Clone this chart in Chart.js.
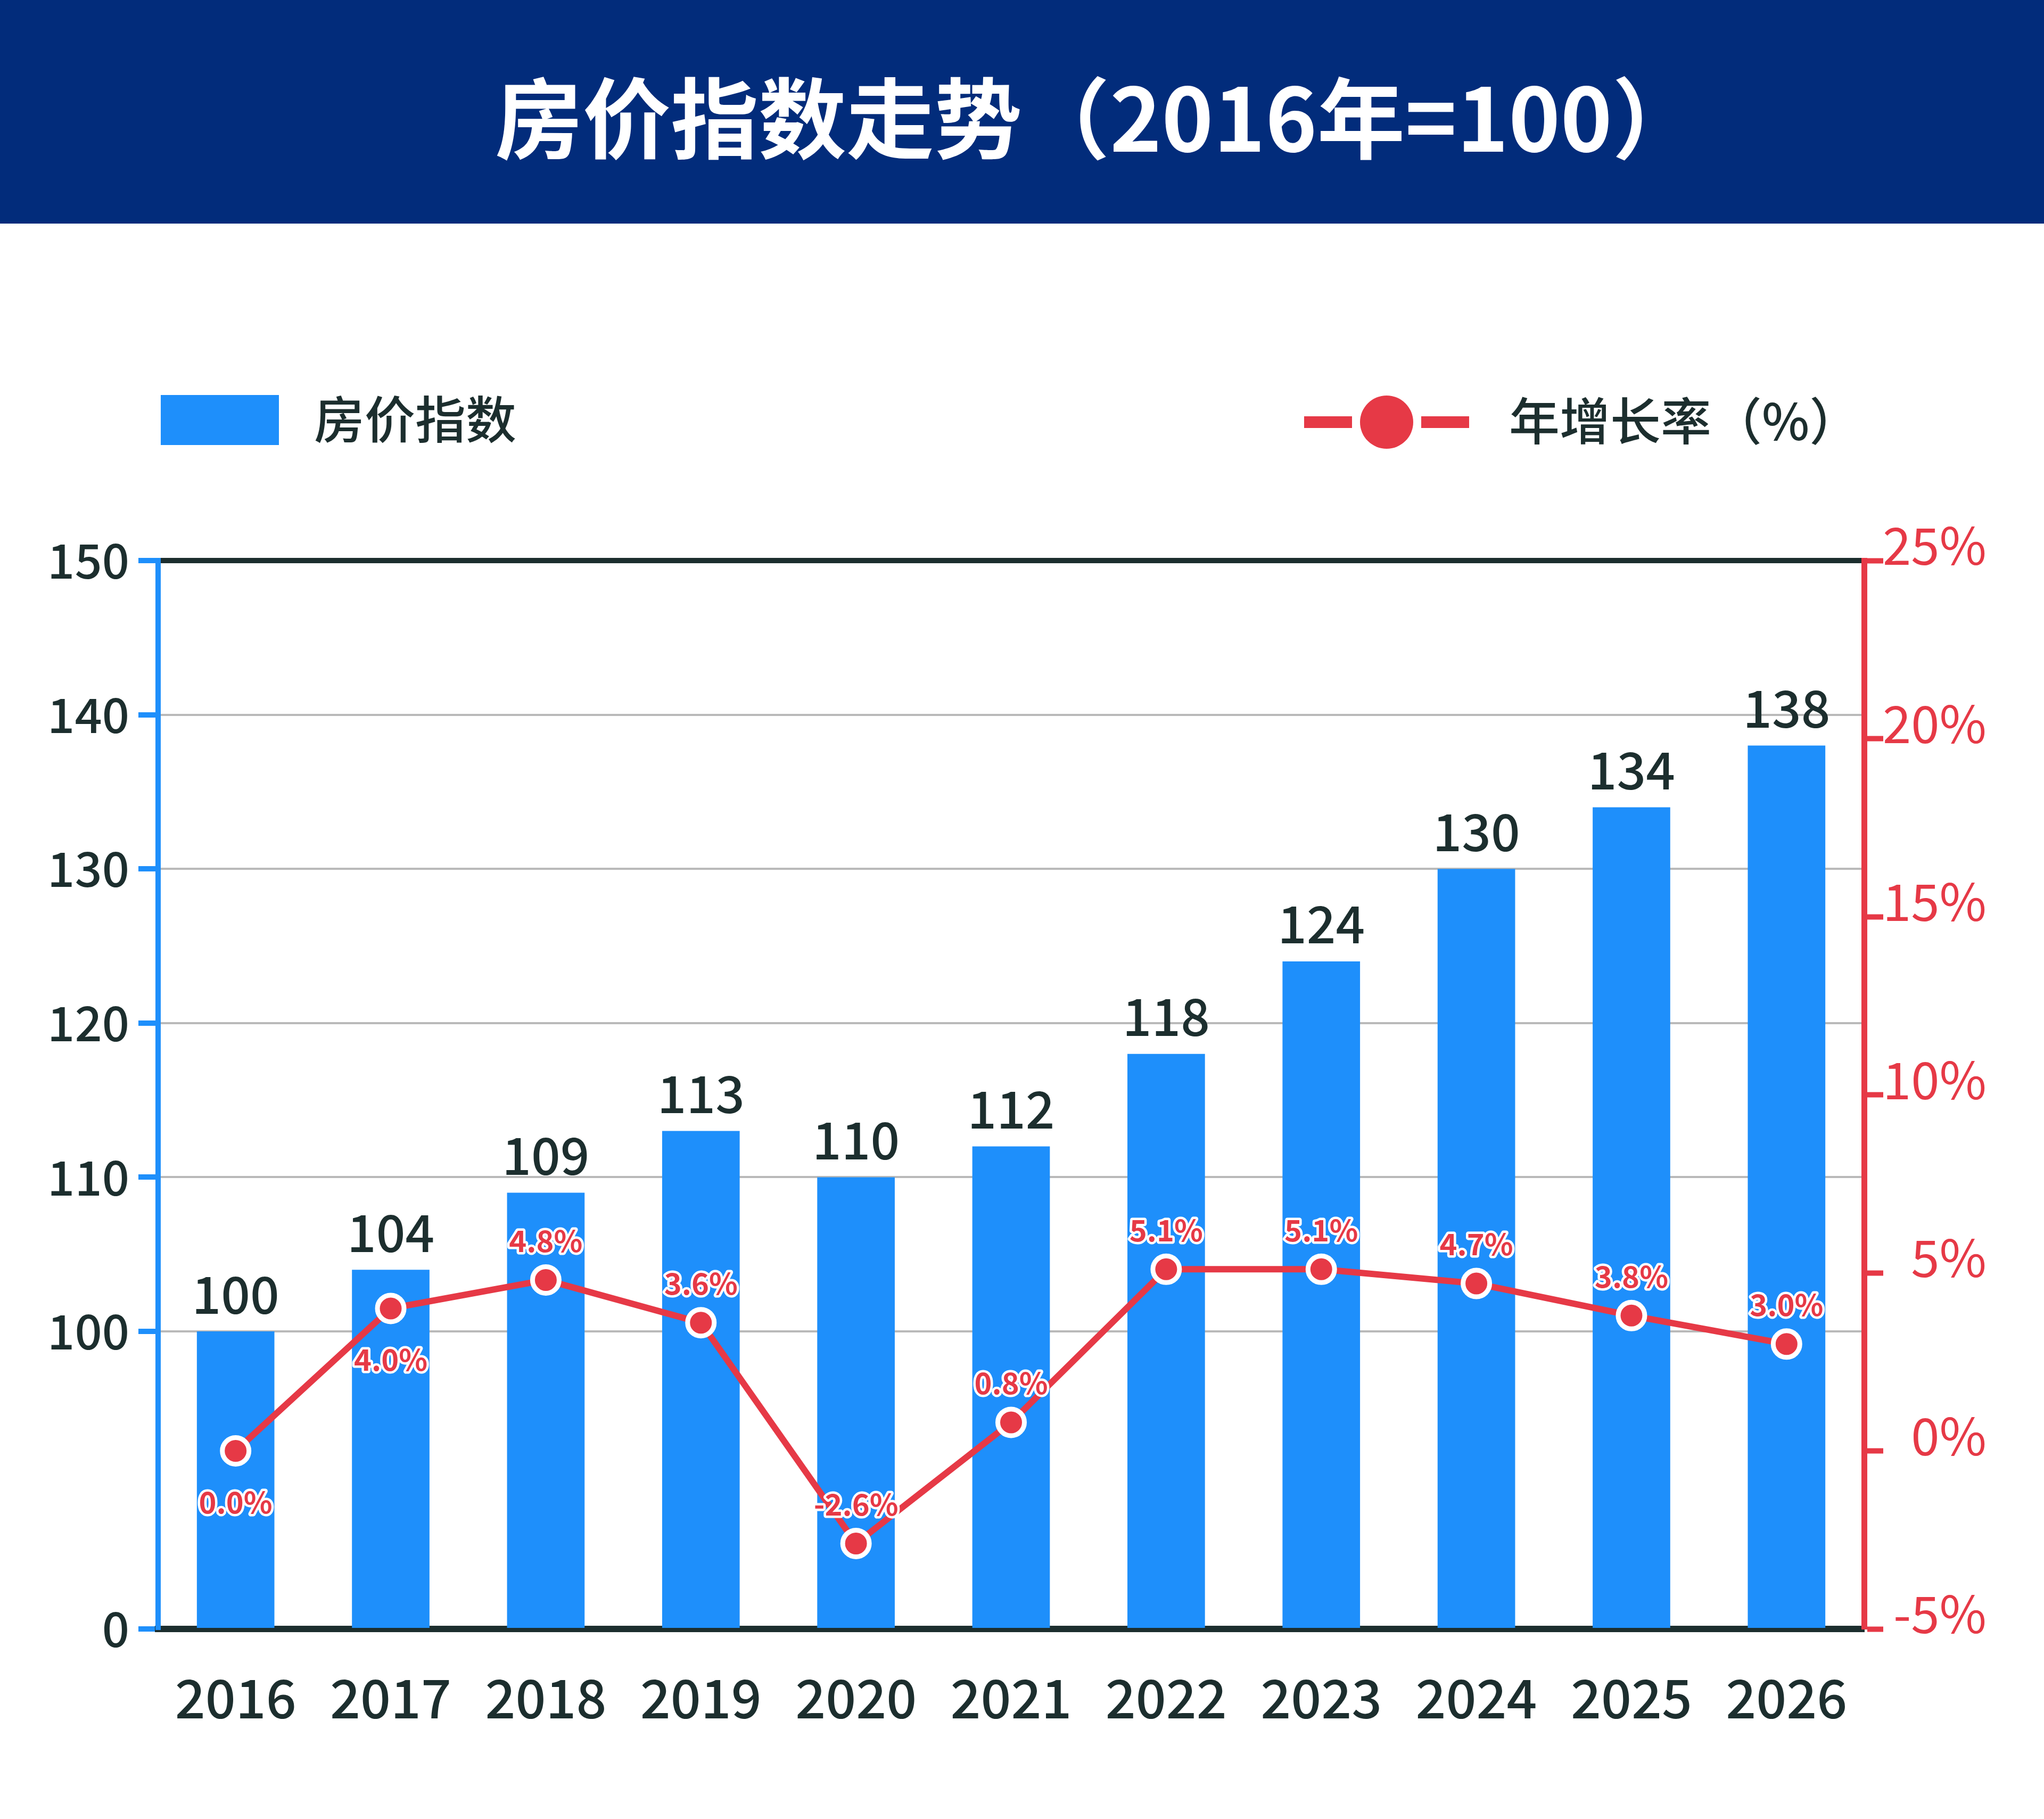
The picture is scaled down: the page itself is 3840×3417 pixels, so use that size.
<!DOCTYPE html>
<html>
<head>
<meta charset="utf-8">
<script src="https://cdn.jsdelivr.net/npm/chart.js@4.4.1/dist/chart.umd.min.js"></script>
<style>
  html, body { margin: 0; padding: 0; background: #ffffff; }
  #wrap { position: relative; width: 3840px; height: 3417px; overflow: hidden;
          font-family: "Noto Sans CJK SC", "Noto Sans", sans-serif; color: #1c2e2e; }
  #chart { position: absolute; left: 0; top: 0; }
  #header { position: absolute; left: 0; top: 0; width: 3840px; height: 420px; background: #022c7b; }
  #title { position: absolute; left: 930px; top: 124px; height: 180px; line-height: 180px;
           font-size: 165px; font-weight: 700; color: #ffffff; white-space: nowrap; }
  .legText { position: absolute; font-size: 95px; font-weight: 500; line-height: 95px; white-space: nowrap; color: #1c2e2e; }
  .legBox { position: absolute; }
</style>
</head>
<body>
<div id="wrap">
  <canvas id="chart" width="3840" height="3417"></canvas>
  <div id="header"><div id="title">房价指数走势（2016年=100）</div></div>
  <div class="legBox" style="left:302px;top:742px;width:222px;height:94px;background:#1e8ffb;"></div>
  <div class="legText" id="leg1" style="left:590px;top:735px;">房价指数</div>
  <div class="legBox" style="left:2450px;top:782px;width:90px;height:22px;background:#e63946;"></div>
  <div class="legBox" style="left:2670px;top:782px;width:90px;height:22px;background:#e63946;"></div>
  <div class="legBox" style="left:2555px;top:743px;width:100px;height:100px;border-radius:50%;background:#e63946;"></div>
  <div class="legText" id="leg2" style="left:2835px;top:738px;">年增长率（%）</div>
</div>
<script>
// ---------------- data ----------------
const categories = ['2016','2017','2018','2019','2020','2021','2022','2023','2024','2025','2026'];
const indexValues = [100, 104, 109, 113, 110, 112, 118, 124, 130, 134, 138];
const growthRates = [0.0, 4.0, 4.8, 3.6, -2.6, 0.8, 5.1, 5.1, 4.7, 3.8, 3.0];
const leftTickValues = [100, 110, 120, 130, 140, 150];
const leftBreakLabel = '0';
const rightTickValues = [-5, 0, 5, 10, 15, 20, 25];
const seriesNames = ['房价指数', '年增长率（%）'];
// growth label placement relative to its point
const growthLabelSide = ['below','below','above','above','above','above','above','above','above','above','above'];

// ---------------- style ----------------
const FONT = '"Noto Sans CJK SC", "Noto Sans", sans-serif';
const DARK = '#1c2e2e';
const BLUE = '#1e8ffb';
const RED = '#e63946';
const GRID = '#b9b9b9';
const Y_MIN = 80.7;   // axis break: bottom of the left axis is labelled "0"
const Y_MAX = 150;

Chart.defaults.font.family = FONT;

const labelPlugin = {
  id: 'valueLabels',
  afterDatasetsDraw(chart) {
    const ctx = chart.ctx;
    ctx.save();
    // bar value labels
    const barMeta = chart.getDatasetMeta(0);
    ctx.font = '500 96px ' + FONT;
    ctx.fillStyle = DARK;
    ctx.textAlign = 'center';
    ctx.textBaseline = 'middle';
    barMeta.data.forEach((el, i) => {
      ctx.fillText(String(indexValues[i]), el.x, el.y - 70);
    });
    // growth labels
    const lineMeta = chart.getDatasetMeta(1);
    ctx.font = '700 56px ' + FONT;
    ctx.lineJoin = 'round';
    lineMeta.data.forEach((el, i) => {
      const txt = growthRates[i].toFixed(1) + '%';
      const y = growthLabelSide[i] === 'below' ? el.y + 96 : el.y - 74;
      ctx.lineWidth = 9;
      ctx.strokeStyle = '#ffffff';
      ctx.strokeText(txt, el.x, y);
      ctx.fillStyle = RED;
      ctx.fillText(txt, el.x, y);
    });
    ctx.restore();
  }
};

new Chart(document.getElementById('chart'), {
  data: {
    labels: categories,
    datasets: [
      {
        type: 'bar',
        label: seriesNames[0],
        data: indexValues,
        yAxisID: 'y',
        base: Y_MIN,
        backgroundColor: BLUE,
        barPercentage: 0.5,
        categoryPercentage: 1.0,
        order: 2
      },
      {
        type: 'line',
        label: seriesNames[1],
        data: growthRates,
        yAxisID: 'y1',
        borderColor: RED,
        borderWidth: 12,
        pointRadius: 25,
        pointBorderWidth: 9,
        pointBackgroundColor: RED,
        pointBorderColor: '#ffffff',
        tension: 0,
        order: 1,
        clip: false
      }
    ]
  },
  options: {
    responsive: false,
    animation: false,
    devicePixelRatio: 1,
    layout: { padding: { top: 1053, left: 0, right: 108, bottom: 0 } },
    plugins: { legend: { display: false }, tooltip: { enabled: false }, title: { display: false } },
    scales: {
      x: {
        type: 'category',
        grid: { display: true, drawOnChartArea: false, drawTicks: false, color: 'rgba(0,0,0,0)' },
        border: { display: true, color: DARK, width: 12 },
        ticks: { color: DARK, font: { size: 100, weight: 500 }, padding: 70, maxRotation: 0, autoSkip: false },
        afterFit: (s) => { s.height = 3417 - 3060; }
      },
      y: {
        type: 'linear',
        position: 'left',
        min: Y_MIN,
        max: Y_MAX,
        afterBuildTicks: (s) => { s.ticks = [Y_MIN].concat(leftTickValues).map(v => ({ value: v })); },
        ticks: {
          color: DARK,
          font: { size: 90, weight: 500 },
          padding: 17,
          callback: (v, i) => (i === 0 ? leftBreakLabel : String(v))
        },
        grid: {
          color: (c) => (c.index === 0 ? 'rgba(0,0,0,0)' : (c.tick && c.tick.value === Y_MAX ? DARK : GRID)),
          lineWidth: (c) => (c.tick && c.tick.value === Y_MAX ? 10 : 4),
          tickColor: BLUE,
          tickWidth: 10,
          tickLength: 37
        },
        border: { display: true, color: BLUE, width: 10 },
        afterFit: (s) => { s.width = 297; }
      },
      y1: {
        type: 'linear',
        position: 'right',
        min: rightTickValues[0],
        max: rightTickValues[rightTickValues.length - 1],
        afterBuildTicks: (s) => { s.ticks = rightTickValues.map(v => ({ value: v })); },
        ticks: {
          color: RED,
          font: { size: 96, weight: 400 },
          padding: 4,
          crossAlign: 'far',
          labelOffset: -28,
          callback: (v) => v + '%'
        },
        grid: { drawOnChartArea: false, color: RED, tickColor: RED, tickWidth: 10, tickLength: 36 },
        border: { display: true, color: RED, width: 11 },
        afterFit: (s) => { s.width = 3840 - 108 - 3502; }
      }
    }
  },
  plugins: [labelPlugin]
});
</script>
</body>
</html>
